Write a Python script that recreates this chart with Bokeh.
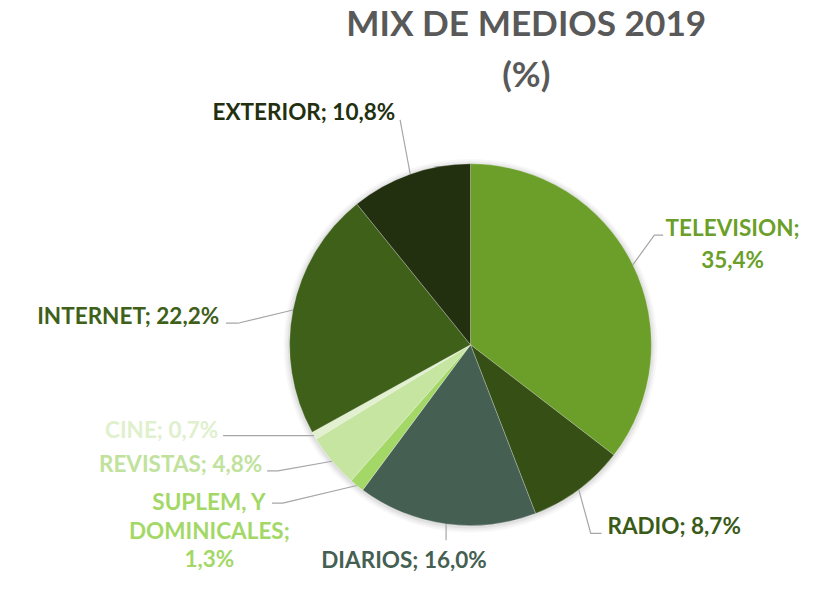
import math
from bokeh.plotting import figure
from bokeh.models import Range1d, ColumnDataSource
from bokeh.embed import file_html
from bokeh.resources import INLINE
from bokeh.core.properties import value

# ---- data ----
categories = ["TELEVISION", "RADIO", "DIARIOS", "SUPLEM. Y DOMINICALES",
              "REVISTAS", "CINE", "INTERNET", "EXTERIOR"]
shares = [35.4, 8.7, 16.0, 1.3, 4.8, 0.7, 22.2, 10.8]
slice_colors = ["#6B9F2A", "#364F14", "#455F53", "#A3D867",
                "#C5E5A0", "#E2F0D0", "#3E6019", "#233010"]
label_colors = ["#6B9F2A", "#3A5A18", "#455F53", "#A3D867",
                "#C0E29C", "#E0F0CE", "#3E6019", "#233010"]
title_lines = ["MIX DE MEDIOS 2019", "(%)"]

# ---- layout (reference pixel coordinates, scaled to fit) ----
W, H = 806, 576
TOP, BOTTOM = 3, 592
K = H / (BOTTOM - TOP)
CX, CY, R = 470, 355, 185
X0 = CX - CX / K
FONT = "Lato"
LABEL_SIZE = f"{23 * K:.1f}px"
TITLE_SIZE = f"{36 * K:.1f}px"

def Y(py):
    return 593 - py

layout = {
    "TELEVISION": dict(x=738, y=235, gap=33, align="center", wrap=[1, 1], pts=[(658, 243), (667, 243)]),
    "RADIO": dict(x=610, y=540, gap=0, align="left", wrap=None, pts=[(593, 548), (604, 548)]),
    "DIARIOS": dict(x=402, y=575, gap=0, align="center", wrap=None, pts=[(445, 555)]),
    "SUPLEM. Y DOMINICALES": dict(x=203, y=515, gap=29.5, align="center", wrap=[2, 1, 1], pts=[(278, 517), (267, 517)]),
    "REVISTAS": dict(x=257, y=476, gap=0, align="right", wrap=None, pts=[(273, 484), (262, 484)]),
    "CINE": dict(x=212, y=442, gap=0, align="right", wrap=None, pts=[(217, 448)]),
    "INTERNET": dict(x=213, y=325, gap=0, align="right", wrap=None, pts=[(232, 333), (220, 333)]),
    "EXTERIOR": dict(x=393, y=117, gap=0, align="right", wrap=None, pts=[(398, 125)]),
}

p = figure(width=W, height=H, output_backend="svg", toolbar_location=None,
           x_range=Range1d(X0, X0 + W / K), y_range=Range1d(Y(BOTTOM), Y(TOP)),
           x_axis_location=None, y_axis_location=None, min_border=0,
           outline_line_color=None, background_fill_color="white",
           border_fill_color="white")
p.grid.visible = False

total = sum(shares)
starts, ends, mids = [], [], []
cum = 0.0
for v in shares:
    a0 = math.pi / 2 - 2 * math.pi * cum / total
    cum += v
    a1 = math.pi / 2 - 2 * math.pi * cum / total
    starts.append(a0)
    ends.append(a1)
    mids.append((a0 + a1) / 2)

src = ColumnDataSource(dict(start=starts, end=ends, color=slice_colors))

# soft shadow
for dr, al in [(6, 0.03), (4, 0.04), (2, 0.05)]:
    p.circle(x=CX, y=Y(CY + 1), radius=R + dr, fill_color="black", fill_alpha=al, line_color=None)

p.wedge(x=CX, y=Y(CY), radius=R, start_angle="start", end_angle="end",
        direction="clock", fill_color="color", line_color="white", line_width=0.5,
        line_alpha=0.5, source=src)

for cat, v, m, col in zip(categories, shares, mids, label_colors):
    lay = layout[cat]
    sx = CX + R * math.cos(m)
    sy = Y(CY) + R * math.sin(m)
    xs = [sx] + [pt[0] for pt in lay["pts"]]
    ys = [sy] + [Y(pt[1]) for pt in lay["pts"]]
    p.line(xs, ys, line_color="#A6A6A6", line_width=1.2)

    txt = f"{cat}; {v:.1f}".replace(".", ",") + "%"
    if lay["wrap"]:
        words = txt.split(" ")
        lines, k = [], 0
        for n in lay["wrap"]:
            lines.append(" ".join(words[k:k + n]))
            k += n
    else:
        lines = [txt]
    for j, line in enumerate(lines):
        p.text(x=[lay["x"]], y=[Y(lay["y"] + j * lay["gap"])], text=[line],
               text_font=value(FONT), text_font_style="bold",
               text_font_size=LABEL_SIZE, text_color=col,
               text_align=lay["align"], text_baseline="middle")

for j, t in enumerate(title_lines):
    p.text(x=[527], y=[Y(25 + j * 52)], text=[t], text_font=value(FONT),
           text_font_style="bold", text_font_size=TITLE_SIZE, text_color="#595959",
           text_align="center", text_baseline="middle")

open("out.html", "w").write(file_html(p, INLINE))
